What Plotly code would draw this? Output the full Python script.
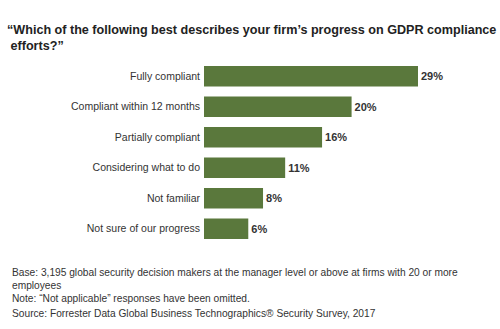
import plotly.graph_objects as go

categories = ["Fully compliant", "Compliant within 12 months", "Partially compliant",
              "Considering what to do", "Not familiar", "Not sure of our progress"]
values = [29, 20, 16, 11, 8, 6]
value_labels = ["29%", "20%", "16%", "11%", "8%", "6%"]

title_text = "“Which of the following best describes your firm’s progress on GDPR compliance<br> efforts?”"
footer_lines = [
    ("Base: 3,195 global security decision makers at the manager level or above at firms with 20 or more<br>employees", 265),
    ("Note: “Not applicable” responses have been omitted.", 291.5),
    ("Source: Forrester Data Global Business Technographics® Security Survey, 2017", 306),
]

W, H = 500, 329
plot_l, plot_r = 204, 417.7
plot_t, plot_b = 60.7, 244.3

fig = go.Figure(go.Bar(
    y=categories, x=values, orientation="h",
    marker=dict(color="#5a783c", line=dict(width=0)),
    text=value_labels, textposition="outside", cliponaxis=False,
    textfont=dict(family="Liberation Sans, Arial, sans-serif", size=11, color="#333333"),
    texttemplate="<b>%{text}</b>",
))

fig.update_layout(
    width=W, height=H,
    margin=dict(l=plot_l, r=W - plot_r, t=plot_t, b=H - plot_b, pad=0),
    paper_bgcolor="white", plot_bgcolor="white",
    bargap=0.33, showlegend=False,
    xaxis=dict(range=[0, 29], visible=False, fixedrange=True),
    yaxis=dict(autorange="reversed", showline=False, showgrid=False, ticks="",
               ticklabelstandoff=3,
               tickfont=dict(family="Liberation Sans, Arial, sans-serif", size=10.5, color="#333333")),
    font=dict(family="Liberation Sans, Arial, sans-serif", color="#333333"),
)

annotations = [dict(
    text="<b>" + title_text + "</b>", xref="paper", yref="paper",
    x=0, y=1, xanchor="left", yanchor="top", align="left", showarrow=False,
    xshift=5 - plot_l, yshift=plot_t - 21,
    font=dict(family="Liberation Sans, Arial, sans-serif", size=12.6, color="#222222"),
)]
for txt, ypix in footer_lines:
    annotations.append(dict(
        text=txt, xref="paper", yref="paper", x=0, y=0,
        xanchor="left", yanchor="top", align="left", showarrow=False,
        xshift=10 - plot_l, yshift=-(ypix - plot_b),
        font=dict(family="Liberation Sans, Arial, sans-serif", size=10.2, color="#333333"),
    ))
fig.update_layout(annotations=annotations)

fig.write_html("out.html")
